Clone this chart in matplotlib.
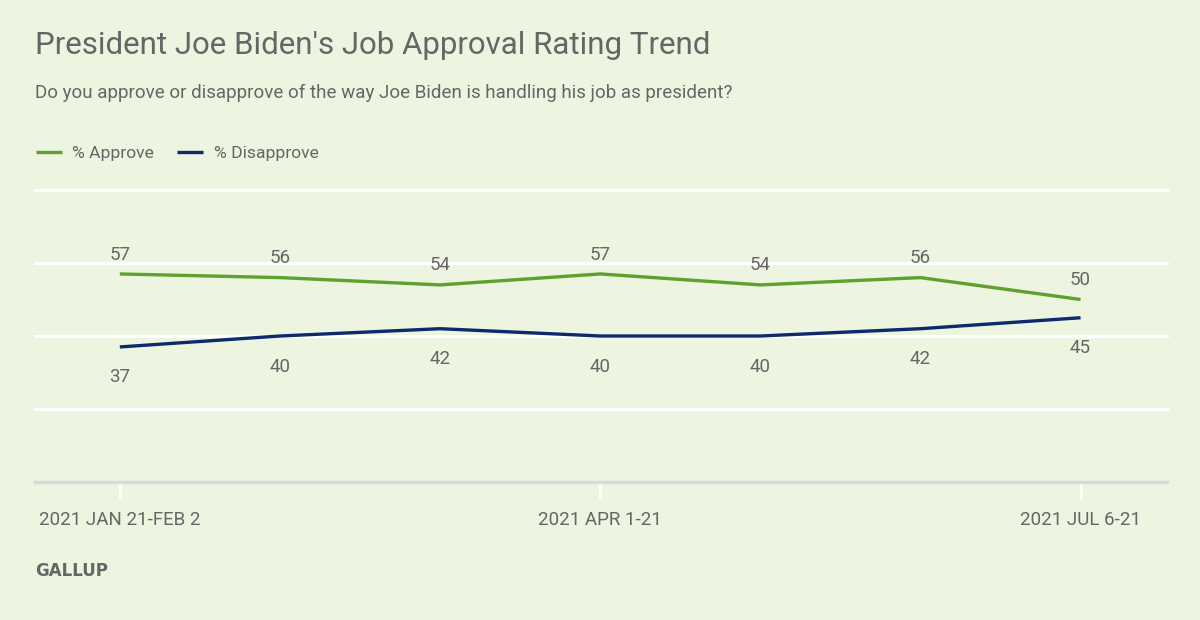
import matplotlib.pyplot as plt
import numpy as np

# data
periods = ['2021 JAN 21-FEB 2', '', '', '2021 APR 1-21', '', '', '2021 JUL 6-21']
approve = [57, 56, 54, 57, 54, 56, 50]
disapprove = [37, 40, 42, 40, 40, 42, 45]

bg = '#edf4df'
green = '#5da12f'
navy = '#0d2a6e'
grey = '#666666'

plt.rcParams['font.family'] = ['Roboto', 'DejaVu Sans']

fig = plt.figure(figsize=(12, 6.2), dpi=100, facecolor=bg)
ax = fig.add_axes([35/1200, 1-482/620, (1167-35)/1200, (482-190)/620])
ax.set_facecolor(bg)

x = np.arange(len(periods))
ax.plot(x, approve, color=green, lw=2.4, solid_capstyle='butt', label='% Approve', zorder=3)
ax.plot(x, disapprove, color=navy, lw=2.4, solid_capstyle='butt', label='% Disapprove', zorder=3)

for xi, a, d in zip(x, approve, disapprove):
    ax.annotate(str(a), (xi, a), xytext=(0, 7.5), textcoords='offset points',
                ha='center', va='bottom', fontsize=13.5, color=grey)
    ax.annotate(str(d), (xi, d), xytext=(0, -15.5), textcoords='offset points',
                ha='center', va='top', fontsize=13.5, color=grey)

ax.set_xlim(-0.53, 6.54)
ax.set_ylim(0, 80)
ax.set_yticks([20, 40, 60, 80])
ax.yaxis.grid(True, color='white', lw=2.2)
ax.set_axisbelow(True)
ax.tick_params(axis='y', left=False, labelleft=False)
for s in ['top', 'right', 'left']:
    ax.spines[s].set_visible(False)
ax.spines['bottom'].set_color('#d8dadb')
ax.spines['bottom'].set_linewidth(2.4)

tick_pos = [i for i, p in enumerate(periods) if p]
ax.set_xticks(tick_pos)
ax.set_xticklabels([periods[i] for i in tick_pos], fontsize=13.5, color=grey)
ax.tick_params(axis='x', length=12, width=2, color='white', pad=9)
for gl in ax.get_ygridlines():
    gl.set_clip_on(False)

fig.text(35/1200, 1-46/620, "President Joe Biden's Job Approval Rating Trend",
         fontsize=22.5, color=grey, va='center', ha='left')
fig.text(35/1200, 1-93/620, "Do you approve or disapprove of the way Joe Biden is handling his job as president?",
         fontsize=13.5, color=grey, va='center', ha='left')

leg = fig.legend(loc='upper left', bbox_to_anchor=(20/1200, 1-130/620), ncol=2, frameon=False,
                 fontsize=12.6, handlelength=1.5, handletextpad=0.6, columnspacing=1.3)
for t in leg.get_texts():
    t.set_color(grey)

fig.text(35/1200, 1-571/620, 'GALLUP', fontsize=12, color=grey, fontweight='bold',
         family='DejaVu Sans', va='center', ha='left')

fig.savefig('out.png', dpi=100, facecolor=bg)
